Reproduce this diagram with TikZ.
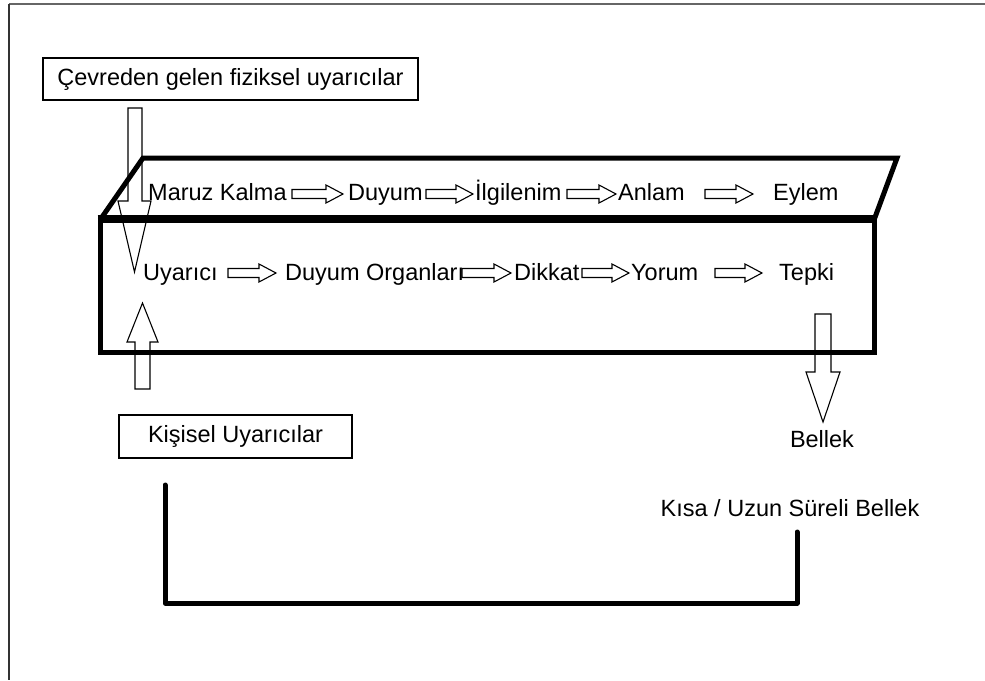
\documentclass[tikz,border=0pt]{standalone}
\usepackage{fontspec}
\setmainfont{Liberation Sans}
\begin{document}
\begin{tikzpicture}[x=1pt,y=-1pt,
  lbl/.style={inner sep=0pt,font=\fontsize{23.5}{28}\selectfont},
  framebox/.style={draw,line width=2.5pt,inner sep=0pt,font=\fontsize{23.5}{28}\selectfont},
  thick edge/.style={line width=5pt,line join=miter},
  outline arrow/.style={draw,line width=1.1pt,line join=miter},
  bracket/.style={line width=5pt,line join=round,line cap=round}]
\useasboundingbox (0,0) rectangle (985,680);
% page frame
\draw[gray!80!black,line width=2pt] (9,4) -- (985,4);
\draw[black!80,line width=1.3pt] (9,4) -- (9,680);

% hollow right arrow between two words: x start, x end, centre y
\newcommand\harrow[3]{%
  \draw[outline arrow] (#1,#3-4.5) -- (#2-17,#3-4.5) -- (#2-17,#3-9) -- (#2,#3)
    -- (#2-17,#3+9) -- (#2-17,#3+4.5) -- (#1,#3+4.5) -- cycle;}

% outer boxes
\node[framebox,minimum width=375pt,minimum height=42pt] (env) at (230.5,79) {Çevreden gelen fiziksel uyarıcılar};
\node[framebox,minimum width=233pt,minimum height=43pt] (pers) at (235.5,436.5) {Kişisel Uyarıcılar};

% top face of the block
\draw[thick edge] (100,220) -- (143,158) -- (897,158) -- (874,220);
% front face of the block
\draw[thick edge] (100,218) rectangle (874,352);
\draw[line width=8pt] (97.5,219) -- (876.5,219);

% upper row
\node[lbl,anchor=base west] (maruz) at (148,200.5) {Maruz Kalma};
\node[lbl,anchor=base west] (duyum) at (348,200.5) {Duyum};
\node[lbl,anchor=base west] (ilgi) at (475,200.5) {İlgilenim};
\node[lbl,anchor=base west] (anlam) at (618,200.5) {Anlam};
\node[lbl,anchor=base west] (eylem) at (773,200.5) {Eylem};
\harrow{292}{343}{194}
\harrow{426}{473}{194}
\harrow{567}{616}{194}
\harrow{705}{753}{194}

% lower row
\node[lbl,anchor=base west] (uyarici) at (143,280) {Uyarıcı};
\node[lbl,anchor=base west] (organ) at (285,280) {Duyum Organları};
\node[lbl,anchor=base west] (dikkat) at (514,280) {Dikkat};
\node[lbl,anchor=base west] (yorum) at (631,280) {Yorum};
\node[lbl,anchor=base west] (tepki) at (779,280) {Tepki};
\harrow{228}{276}{273}
\harrow{462}{511}{273}
\harrow{582}{629}{273}
\harrow{715}{762}{273}

% big hollow arrows
\draw[outline arrow] (128,108) -- (142,108) -- (142,201) -- (151,201) -- (134.5,272)
  -- (118,201) -- (128,201) -- cycle;
\draw[outline arrow] (135,389) -- (150,389) -- (150,342) -- (158,342) -- (142.5,303)
  -- (127,342) -- (135,342) -- cycle;
\draw[outline arrow] (815,314) -- (831,314) -- (831,372) -- (840,372) -- (823,422)
  -- (806,372) -- (815,372) -- cycle;

% memory
\node[lbl] (bellek) at (822,439) {Bellek};
\node[lbl] (kisa) at (790,508) {Kısa / Uzun Süreli Bellek};
\coordinate (loopA) at (165,485);
\coordinate (loopB) at (797,532);
\draw[bracket] (loopA) -- (165,603) -- (797,603) -- (loopB);
\end{tikzpicture}
\end{document}
